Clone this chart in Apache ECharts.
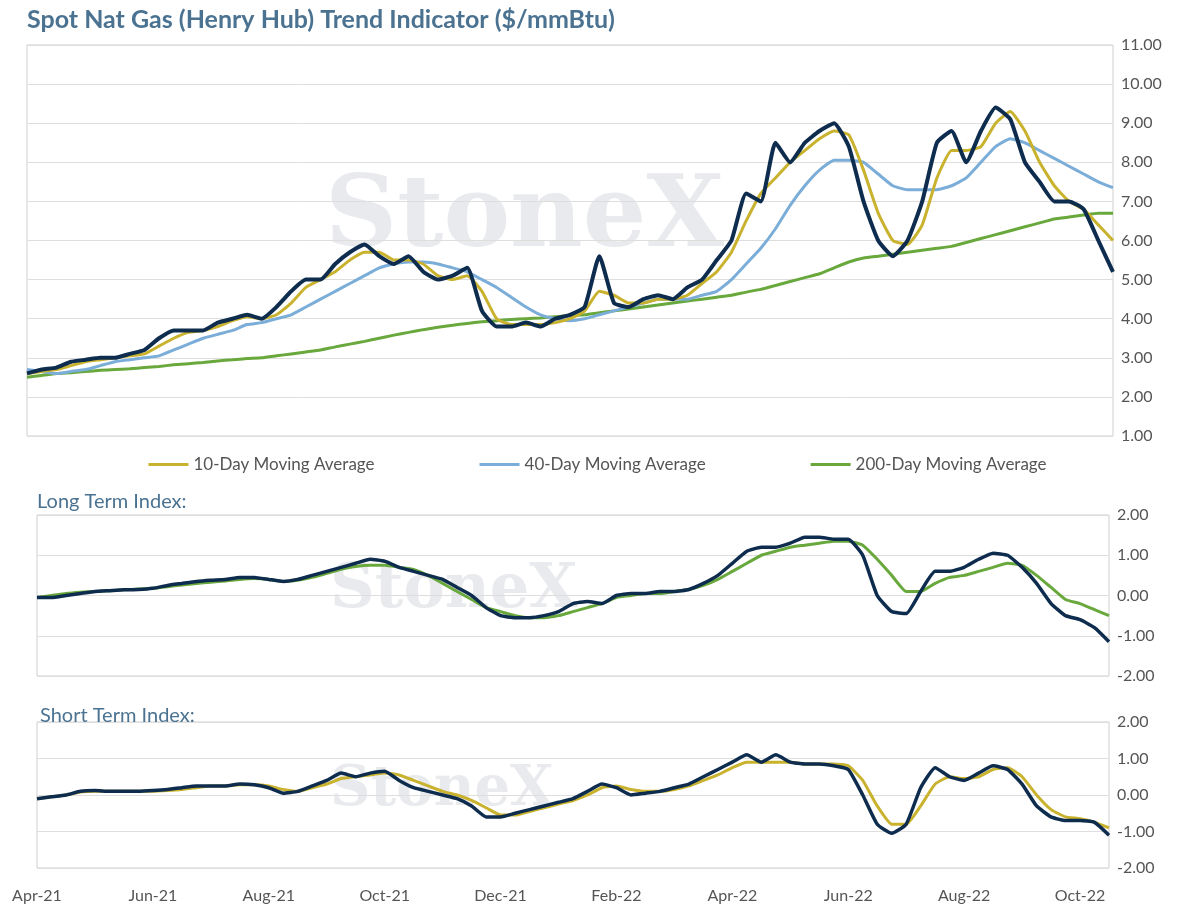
<!DOCTYPE html>
<html>
<head>
  <meta charset="utf-8" />
  <title>Spot Nat Gas Trend Indicator</title>
  <script src="https://cdn.jsdelivr.net/npm/echarts@6/dist/echarts.min.js"></script>
</head>
<style>
  body { margin: 0; padding: 0; overflow: hidden; background: #fff; }
</style>
<body>
  <div id="main" style="width: 1195px;height: 919px;"></div>
  <script type="text/javascript">
    // weekly points, 4 per month from Apr-21 to mid Oct-22
    const months = ['Apr-21','May-21','Jun-21','Jul-21','Aug-21','Sep-21','Oct-21','Nov-21','Dec-21',
      'Jan-22','Feb-22','Mar-22','Apr-22','May-22','Jun-22','Jul-22','Aug-22','Sep-22','Oct-22'];
    const dates = [];
    months.forEach((m, i) => {
      const n = i === months.length - 1 ? 3 : 4;
      for (let k = 0; k < n; k++) dates.push(k === 0 ? m : m + ' w' + (k + 1));
    });

    const spot = [2.6,2.7,2.75,2.9, 2.95,3.0,3.0,3.1, 3.2,3.5,3.7,3.7, 3.7,3.9,4.0,4.1, 4.0,4.3,4.7,5.0,
      5.0,5.4,5.7,5.9, 5.6,5.4,5.6,5.2, 5.0,5.1,5.3,4.2, 3.8,3.8,3.9,3.8, 4.0,4.1,4.3,5.6,
      4.4,4.3,4.5,4.6, 4.5,4.8,5.0,5.5, 6.0,7.2,7.0,8.5, 8.0,8.5,8.8,9.0, 8.4,7.0,6.0,5.6,
      6.0,7.0,8.5,8.8, 8.0,8.8,9.4,9.1, 8.0,7.5,7.0,7.0, 6.8,6.0,5.2];
    const ma10 = [2.6,2.65,2.7,2.8, 2.9,2.95,3.0,3.05, 3.1,3.3,3.5,3.65, 3.7,3.8,3.95,4.05, 4.0,4.1,4.4,4.8,
      5.0,5.2,5.5,5.7, 5.7,5.5,5.5,5.4, 5.1,5.0,5.1,4.7, 4.0,3.85,3.85,3.85, 3.9,4.0,4.2,4.7,
      4.6,4.4,4.4,4.5, 4.5,4.6,4.9,5.2, 5.7,6.5,7.2,7.6, 8.0,8.3,8.6,8.8, 8.7,7.8,6.7,6.0,
      5.9,6.4,7.6,8.3, 8.3,8.4,9.0,9.3, 8.8,8.0,7.4,7.0, 6.8,6.4,6.0];
    const ma40 = [2.7,2.65,2.6,2.65, 2.7,2.8,2.9,2.95, 3.0,3.05,3.2,3.35, 3.5,3.6,3.7,3.85, 3.9,4.0,4.1,4.3,
      4.5,4.7,4.9,5.1, 5.3,5.4,5.45,5.45, 5.4,5.3,5.2,5.0, 4.8,4.55,4.3,4.1, 4.0,3.95,4.0,4.1,
      4.2,4.3,4.4,4.5, 4.5,4.5,4.6,4.7, 5.0,5.4,5.8,6.3, 6.9,7.4,7.8,8.05, 8.05,8.0,7.7,7.4,
      7.3,7.3,7.3,7.4, 7.6,8.0,8.4,8.6, 8.5,8.3,8.1,7.9, 7.7,7.5,7.35];
    const ma200 = [2.5,2.55,2.6,2.62, 2.65,2.68,2.7,2.72, 2.75,2.78,2.82,2.85, 2.88,2.92,2.95,2.98, 3.0,3.05,3.1,3.15,
      3.2,3.28,3.35,3.42, 3.5,3.58,3.65,3.72, 3.78,3.83,3.88,3.92, 3.95,3.98,4.0,4.02, 4.05,4.08,4.1,4.15,
      4.2,4.25,4.3,4.35, 4.4,4.45,4.5,4.55, 4.6,4.68,4.75,4.85, 4.95,5.05,5.15,5.3, 5.45,5.55,5.6,5.65,
      5.7,5.75,5.8,5.85, 5.95,6.05,6.15,6.25, 6.35,6.45,6.55,6.6, 6.65,6.7,6.7];
    const longIdx = [-0.05,-0.05,0.0,0.05, 0.1,0.12,0.14,0.15, 0.18,0.25,0.3,0.35, 0.38,0.4,0.45,0.45, 0.4,0.35,0.4,0.5,
      0.6,0.7,0.8,0.9, 0.85,0.7,0.6,0.5, 0.4,0.2,0.0,-0.3, -0.5,-0.55,-0.55,-0.5, -0.4,-0.2,-0.15,-0.2,
      0.0,0.05,0.05,0.1, 0.1,0.15,0.3,0.5, 0.8,1.1,1.2,1.2, 1.3,1.45,1.45,1.4, 1.4,1.0,0.0,-0.4,
      -0.45,0.1,0.6,0.6, 0.7,0.9,1.05,1.0, 0.7,0.3,-0.2,-0.5, -0.6,-0.8,-1.15];
    const longSig = [-0.05,0.0,0.05,0.08, 0.1,0.12,0.14,0.16, 0.18,0.22,0.26,0.3, 0.33,0.36,0.4,0.42, 0.4,0.35,0.38,0.45,
      0.55,0.65,0.72,0.75, 0.75,0.7,0.65,0.5, 0.3,0.1,-0.1,-0.3, -0.4,-0.5,-0.55,-0.55, -0.5,-0.4,-0.3,-0.2,
      -0.05,0.0,0.05,0.05, 0.1,0.15,0.25,0.4, 0.6,0.8,1.0,1.1, 1.2,1.25,1.3,1.35, 1.35,1.25,0.9,0.5,
      0.1,0.1,0.3,0.45, 0.5,0.6,0.7,0.8, 0.75,0.5,0.2,-0.1, -0.2,-0.35,-0.5];
    const shortIdx = [-0.1,-0.05,0.0,0.1, 0.12,0.1,0.1,0.1, 0.12,0.15,0.2,0.25, 0.25,0.25,0.3,0.28, 0.2,0.05,0.1,0.25,
      0.4,0.6,0.5,0.6, 0.65,0.4,0.2,0.1, 0.0,-0.1,-0.3,-0.6, -0.6,-0.5,-0.4,-0.3, -0.2,-0.1,0.1,0.3,
      0.2,0.0,0.05,0.1, 0.2,0.3,0.5,0.7, 0.9,1.1,0.9,1.1, 0.9,0.85,0.85,0.8, 0.7,0.0,-0.8,-1.05,
      -0.8,0.2,0.75,0.5, 0.4,0.6,0.8,0.7, 0.3,-0.3,-0.6,-0.7, -0.7,-0.75,-1.1];
    const shortSig = [-0.1,-0.05,0.0,0.08, 0.1,0.1,0.1,0.1, 0.1,0.12,0.15,0.2, 0.25,0.25,0.28,0.28, 0.25,0.15,0.1,0.2,
      0.3,0.45,0.5,0.55, 0.6,0.55,0.4,0.25, 0.1,0.0,-0.15,-0.35, -0.55,-0.55,-0.45,-0.35, -0.25,-0.15,0.0,0.2,
      0.25,0.15,0.1,0.1, 0.15,0.25,0.4,0.55, 0.75,0.9,0.9,0.9, 0.9,0.85,0.85,0.85, 0.8,0.4,-0.3,-0.8,
      -0.8,-0.3,0.3,0.5, 0.45,0.5,0.7,0.75, 0.5,0.0,-0.4,-0.6, -0.65,-0.75,-0.9];

    const navy = '#0e2c4e', gold = '#c9b22e', blue = '#7badd9', green = '#69a83c';
    const font = 'Lato';
    const tickColor = '#555';

    function xAxis(i, showLabels) {
      return {
        type: 'category', gridIndex: i, data: dates, boundaryGap: false,
        axisLine: { show: false }, axisTick: { show: false },
        axisLabel: {
          show: showLabels, fontFamily: font, fontSize: 16, color: tickColor, margin: 20,
          interval: 0,
          formatter: (v, idx) => (idx % 8 === 0 ? v : '')
        }
      };
    }
    function yAxis(i, min, max) {
      return {
        type: 'value', gridIndex: i, position: 'right', min: min, max: max, interval: 1,
        axisLine: { show: false }, axisTick: { show: false },
        axisLabel: { fontFamily: font, fontSize: 16, color: tickColor, formatter: v => v.toFixed(2) },
        splitLine: { lineStyle: { color: '#dedede' } }
      };
    }
    function line(name, data, color, width, axis) {
      return {
        name: name, type: 'line', data: data, xAxisIndex: axis, yAxisIndex: axis,
        showSymbol: false, smooth: 0.15, lineStyle: { color: color, width: width }, itemStyle: { color: color }
      };
    }
    function watermark(cx, cy, size) {
      return {
        type: 'text', left: cx, top: cy, z: 0,
        style: { text: 'StoneX', font: 'bold ' + size + 'px "DejaVu Serif"', fill: 'rgba(150,160,175,0.22)' }
      };
    }

    const myChart = echarts.init(document.getElementById('main'));
    const option = {
      animation: false,
      title: [
        { text: 'Spot Nat Gas (Henry Hub) Trend Indicator ($/mmBtu)', left: 22, top: 2,
          textStyle: { fontFamily: font, fontSize: 25, fontWeight: 'bold', color: '#4b7391' } },
        { text: 'Long Term Index:', left: 32, top: 487,
          textStyle: { fontFamily: font, fontSize: 20, fontWeight: 'normal', color: '#4b7391' } },
        { text: 'Short Term Index:', left: 35, top: 701,
          textStyle: { fontFamily: font, fontSize: 20, fontWeight: 'normal', color: '#4b7391' } }
      ],
      legend: {
        top: 451, left: 'center', itemGap: 105, itemWidth: 40, itemHeight: 3, icon: 'rect',
        textStyle: { fontFamily: font, fontSize: 17, color: '#555' },
        data: ['10-Day Moving Average', '40-Day Moving Average', '200-Day Moving Average']
      },
      graphic: [watermark(325, 170, 100), watermark(330, 560, 62), watermark(330, 762, 56)],
      grid: [
        { left: 27, right: 82, top: 45, height: 391, show: true, borderColor: '#cfcfcf' },
        { left: 37, right: 86, top: 515, height: 161, show: true, borderColor: '#cfcfcf' },
        { left: 37, right: 86, top: 722, height: 146, show: true, borderColor: '#cfcfcf' }
      ],
      xAxis: [xAxis(0, false), xAxis(1, false), xAxis(2, true)],
      yAxis: [yAxis(0, 1, 11), yAxis(1, -2, 2), yAxis(2, -2, 2)],
      series: [
        line('200-Day Moving Average', ma200, green, 3, 0),
        line('40-Day Moving Average', ma40, blue, 3, 0),
        line('10-Day Moving Average', ma10, gold, 3, 0),
        line('Spot', spot, navy, 4, 0),
        line('Long Signal', longSig, green, 3, 1),
        line('Long Index', longIdx, navy, 3.5, 1),
        line('Short Signal', shortSig, gold, 3, 2),
        line('Short Index', shortIdx, navy, 3.5, 2)
      ]
    };
    myChart.setOption(option);
  </script>
</body>
</html>
